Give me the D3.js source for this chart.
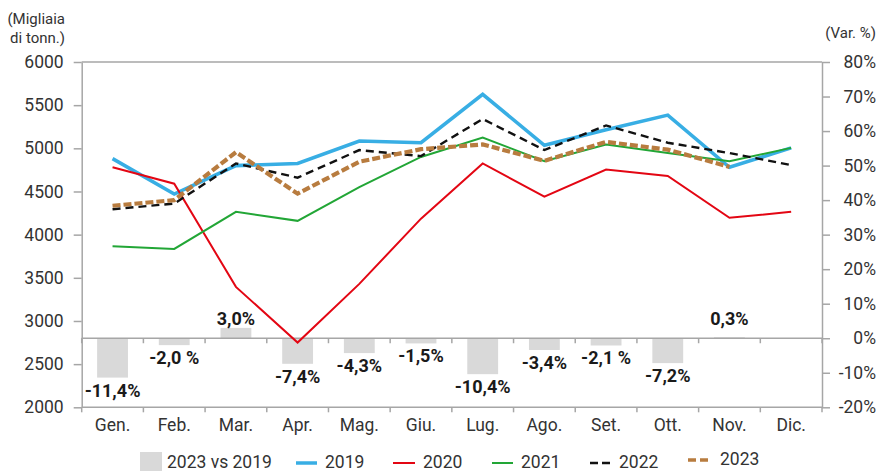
<!DOCTYPE html>
<html>
<head>
<meta charset="utf-8">
<script src="https://cdn.jsdelivr.net/npm/d3@7"></script>
<style>
  html, body { margin: 0; padding: 0; background: #fff; }
  svg { display: block; font-family: Roboto, "Noto Sans", sans-serif; }
</style>
</head>
<body>
<svg id="chart" width="877" height="471"></svg>
<script>
// Months
const months = ["Gen.", "Feb.", "Mar.", "Apr.", "Mag.", "Giu.", "Lug.", "Ago.", "Set.", "Ott.", "Nov.", "Dic."];

// Monthly volumes (thousands of tonnes)
const s2019 = [4880, 4470, 4800, 4825, 5085, 5065, 5625, 5035, 5215, 5385, 4780, 5005];
const s2020 = [4780, 4590, 3395, 2750, 3430, 4185, 4825, 4440, 4755, 4680, 4195, 4265];
const s2021 = [3865, 3835, 4265, 4160, 4550, 4900, 5125, 4850, 5045, 4945, 4850, 5005];
const s2022 = [4295, 4360, 4825, 4660, 4980, 4910, 5340, 4980, 5265, 5065, 4945, 4805];
const s2023 = [4335, 4400, 4955, 4475, 4845, 4990, 5045, 4855, 5075, 4985, 4785, null];

// 2023 vs 2019 change (%)
const change = [-11.4, -2.0, 3.0, -7.4, -4.3, -1.5, -10.4, -3.4, -2.1, -7.2, 0.3, null];
const changeLabels = ["-11,4%", "-2,0 %", "3,0%", "-7,4%", "-4,3%", "-1,5%", "-10,4%", "-3,4%", "-2,1 %", "-7,2%", "0,3%", ""];

// Axis ticks
const leftTicks = [2000, 2500, 3000, 3500, 4000, 4500, 5000, 5500, 6000];
const rightTicks = [-20, -10, 0, 10, 20, 30, 40, 50, 60, 70, 80];

const series = [
  { name: "2019", values: s2019, color: "#38aee4", width: 3.6, dash: null },
  { name: "2020", values: s2020, color: "#e30613", width: 2, dash: null },
  { name: "2021", values: s2021, color: "#22a636", width: 2, dash: null },
  { name: "2022", values: s2022, color: "#111111", width: 2.4, dash: "8,5" },
  { name: "2023", values: s2023, color: "#b87c3f", width: 4.2, dash: "8,3" }
];

const svg = d3.select("#chart");
const L = 81.7, R = 822, T = 62, B = 407.3;
const axisColor = "#a6a6a6";
const textColor = "#333333";
const tickFont = 17.5;

const x = d3.scaleBand().domain(months).range([L, R]).padding(0);
const bw = x.bandwidth();
const cx = m => x(m) + bw / 2;
const yL = d3.scaleLinear().domain([2000, 6000]).range([B, T]);
const yR = d3.scaleLinear().domain([-20, 80]).range([B, T]);

// Top frame line
svg.append("line").attr("x1", L).attr("x2", R).attr("y1", T).attr("y2", T)
  .attr("stroke", axisColor).attr("stroke-width", 1.5);

// Left axis
const gL = svg.append("g").attr("transform", `translate(${L},0)`)
  .call(d3.axisLeft(yL).tickValues(leftTicks).tickFormat(d3.format("d"))
    .tickSize(8).tickPadding(10).tickSizeOuter(0));
gL.selectAll("text").attr("font-size", tickFont).attr("fill", textColor).attr("font-family", "Roboto");

// Right axis
const gR = svg.append("g").attr("transform", `translate(${R},0)`)
  .call(d3.axisRight(yR).tickValues(rightTicks).tickFormat(d => d + "%").tickSize(8).tickSizeOuter(0));
gR.selectAll("text").attr("font-size", tickFont).attr("fill", textColor).attr("font-family", "Roboto")
  .attr("text-anchor", "end").attr("x", 54);

[gL, gR].forEach(g => {
  g.select(".domain").attr("stroke", axisColor).attr("stroke-width", 1.5);
  g.selectAll(".tick line").attr("stroke", axisColor).attr("stroke-width", 1.5);
});

// Bars: 2023 vs 2019
const barW = bw * 0.5;
const bars = months.map((m, i) => ({ m, v: change[i], label: changeLabels[i] })).filter(d => d.v !== null);
svg.append("g").selectAll("rect").data(bars).join("rect")
  .attr("x", d => cx(d.m) - barW / 2)
  .attr("width", barW)
  .attr("y", d => Math.min(yR(d.v), yR(0)))
  .attr("height", d => Math.abs(yR(d.v) - yR(0)))
  .attr("fill", "#d9d9d9");

// Zero line with category ticks
const boundaries = months.map(m => x(m)).concat([R]);
svg.append("line").attr("x1", L).attr("x2", R).attr("y1", yR(0)).attr("y2", yR(0))
  .attr("stroke", axisColor).attr("stroke-width", 1.5);
svg.append("g").selectAll("line").data(boundaries).join("line")
  .attr("x1", d => d).attr("x2", d => d).attr("y1", yR(0)).attr("y2", yR(0) + 5)
  .attr("stroke", axisColor).attr("stroke-width", 1.5);

// Bottom axis
svg.append("line").attr("x1", L).attr("x2", R).attr("y1", B).attr("y2", B)
  .attr("stroke", axisColor).attr("stroke-width", 1.5);
svg.append("g").selectAll("line").data(boundaries).join("line")
  .attr("x1", d => d).attr("x2", d => d).attr("y1", B).attr("y2", B + 5)
  .attr("stroke", axisColor).attr("stroke-width", 1.5);
svg.append("g").selectAll("text").data(months).join("text")
  .attr("x", d => cx(d)).attr("y", 431)
  .attr("text-anchor", "middle").attr("font-size", tickFont).attr("fill", textColor)
  .text(d => d);

// Lines
const line = d3.line()
  .defined(d => d.v !== null)
  .x(d => cx(d.m))
  .y(d => yL(d.v));
series.forEach(s => {
  const pts = months.map((m, i) => ({ m, v: s.values[i] }));
  svg.append("path").datum(pts)
    .attr("d", line)
    .attr("fill", "none")
    .attr("stroke", s.color)
    .attr("stroke-width", s.width)
    .attr("stroke-linejoin", "miter")
    .attr("stroke-dasharray", s.dash);
});

// Bar value labels
svg.append("g").selectAll("text").data(bars).join("text")
  .attr("x", d => cx(d.m))
  .attr("y", d => d.v < 0 ? yR(d.v) + 19 : yR(0) - 13)
  .attr("text-anchor", "middle")
  .attr("font-size", 18).attr("font-weight", "bold").attr("fill", "#1a1a1a")
  .text(d => d.label);

// Axis titles
svg.append("text").attr("x", 65).attr("y", 24).attr("text-anchor", "end")
  .attr("font-size", 15).attr("fill", textColor).text("(Migliaia");
svg.append("text").attr("x", 65).attr("y", 43).attr("text-anchor", "end")
  .attr("font-size", 15).attr("fill", textColor).text("di tonn.)");
svg.append("text").attr("x", 876).attr("y", 38).attr("text-anchor", "end")
  .attr("font-size", 15).attr("fill", textColor).text("(Var. %)");

// Legend
const lg = svg.append("g");
lg.append("rect").attr("x", 140).attr("y", 452).attr("width", 22).attr("height", 19).attr("fill", "#d9d9d9");
lg.append("text").attr("x", 167).attr("y", 468).attr("font-size", 17.5).attr("fill", textColor).text("2023 vs 2019");
const legendPos = [
  { x1: 296, x2: 317, y: 463, tx: 325, ty: 468 },
  { x1: 393, x2: 415, y: 463, tx: 423, ty: 468 },
  { x1: 492, x2: 513, y: 463, tx: 521, ty: 468 },
  { x1: 590, x2: 612, y: 463, tx: 619, ty: 468 },
  { x1: 688, x2: 712, y: 460, tx: 720, ty: 465 }
];
series.forEach((s, i) => {
  const p = legendPos[i];
  lg.append("line").attr("x1", p.x1).attr("x2", p.x2).attr("y1", p.y).attr("y2", p.y)
    .attr("stroke", s.color).attr("stroke-width", Math.min(s.width, 3.5))
    .attr("stroke-dasharray", s.dash ? "8,4" : null);
  lg.append("text").attr("x", p.tx).attr("y", p.ty).attr("font-size", 17.5).attr("fill", textColor).text(s.name);
});
</script>
</body>
</html>
